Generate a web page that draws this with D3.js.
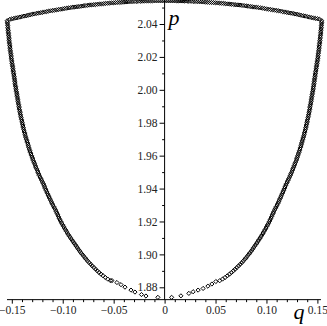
<!DOCTYPE html>
<html>
<head>
<meta charset="utf-8">
<script src="https://cdn.jsdelivr.net/npm/d3@7"></script>
<style>
  html, body { margin: 0; background: #fff; }
  svg { display: block; }
</style>
</head>
<body>
<svg id="chart"></svg>
<script>
// p levels read along the two steep sides of the curve
const sideP = [
  2.042, 2.040, 2.038, 2.036, 2.034, 2.032, 2.030, 2.028, 2.026, 2.024,
  2.022, 2.020, 2.018, 2.016, 2.014, 2.012, 2.010, 2.008, 2.006, 2.004,
  2.002, 2.000, 1.998, 1.996, 1.994, 1.992, 1.990, 1.988, 1.986, 1.984,
  1.982, 1.980, 1.978, 1.976, 1.974, 1.972, 1.970, 1.968, 1.966, 1.964,
  1.962, 1.960, 1.958, 1.956, 1.954, 1.952, 1.950, 1.948, 1.946, 1.944,
  1.942, 1.940, 1.938, 1.936, 1.934, 1.932, 1.930, 1.928, 1.926, 1.924,
  1.922, 1.920, 1.918, 1.916, 1.914, 1.912, 1.910, 1.908, 1.906, 1.904,
  1.902, 1.900, 1.899, 1.898, 1.897, 1.896, 1.895, 1.894, 1.893, 1.892,
  1.891, 1.890, 1.889, 1.888, 1.887, 1.886, 1.885, 1.884
];
const leftQ = [
  -0.1545, -0.1542, -0.1539, -0.1536, -0.1532, -0.1529, -0.1526, -0.1522, -0.1518, -0.1515,
  -0.1510, -0.1506, -0.1502, -0.1497, -0.1492, -0.1487, -0.1482, -0.1477, -0.1472, -0.1468,
  -0.1463, -0.1458, -0.1452, -0.1447, -0.1442, -0.1436, -0.1430, -0.1425, -0.1418, -0.1412,
  -0.1405, -0.1398, -0.1391, -0.1383, -0.1375, -0.1366, -0.1357, -0.1347, -0.1338, -0.1328,
  -0.1318, -0.1306, -0.1295, -0.1282, -0.1271, -0.1257, -0.1244, -0.1231, -0.1214, -0.1199,
  -0.1184, -0.1172, -0.1157, -0.1142, -0.1127, -0.1113, -0.1098, -0.1079, -0.1064, -0.1049,
  -0.1035, -0.1019, -0.1001, -0.0983, -0.0964, -0.0945, -0.0923, -0.0901, -0.0878, -0.0856,
  -0.0834, -0.0808, -0.0795, -0.0782, -0.0769, -0.0756, -0.0741, -0.0725, -0.0710, -0.0694,
  -0.0677, -0.0661, -0.0643, -0.0625, -0.0604, -0.0582, -0.0558, -0.0531
];
const rightQ = [
  0.1543, 0.1541, 0.1538, 0.1535, 0.1532, 0.1528, 0.1525, 0.1521, 0.1517, 0.1514,
  0.1509, 0.1505, 0.1501, 0.1496, 0.1491, 0.1486, 0.1481, 0.1476, 0.1471, 0.1467,
  0.1462, 0.1457, 0.1451, 0.1446, 0.1441, 0.1435, 0.1429, 0.1424, 0.1417, 0.1411,
  0.1404, 0.1397, 0.1390, 0.1382, 0.1374, 0.1366, 0.1357, 0.1348, 0.1339, 0.1329,
  0.1319, 0.1308, 0.1297, 0.1285, 0.1273, 0.1260, 0.1247, 0.1234, 0.1219, 0.1204,
  0.1189, 0.1176, 0.1162, 0.1148, 0.1134, 0.1120, 0.1105, 0.1088, 0.1073, 0.1058,
  0.1044, 0.1029, 0.1012, 0.0995, 0.0977, 0.0958, 0.0938, 0.0917, 0.0895, 0.0873,
  0.0851, 0.0826, 0.0813, 0.0800, 0.0787, 0.0773, 0.0758, 0.0742, 0.0726, 0.0709,
  0.0692, 0.0675, 0.0656, 0.0637, 0.0616, 0.0594, 0.0569, 0.0541
];

// second pass along the sides, at the odd p levels
const sideP2 = [
  2.041, 2.039, 2.037, 2.035, 2.033, 2.031, 2.029, 2.027, 2.025, 2.023,
  2.021, 2.019, 2.017, 2.015, 2.013, 2.011, 2.009, 2.007, 2.005, 2.003,
  2.001, 1.999, 1.997, 1.995, 1.993, 1.991, 1.989, 1.987, 1.985, 1.983,
  1.981, 1.979, 1.977, 1.975, 1.973, 1.971, 1.969, 1.967, 1.965, 1.963,
  1.961, 1.959, 1.957, 1.955, 1.953, 1.951, 1.949, 1.947, 1.945, 1.943,
  1.941, 1.939, 1.937, 1.935, 1.933, 1.931, 1.929, 1.927, 1.925, 1.923,
  1.921, 1.919, 1.917, 1.915, 1.913, 1.911, 1.909, 1.907, 1.905, 1.903,
  1.901
];
const leftQ2 = [
  -0.1544, -0.1540, -0.1537, -0.1534, -0.1531, -0.1527, -0.1524, -0.1520, -0.1516, -0.1512,
  -0.1508, -0.1504, -0.1499, -0.1494, -0.1490, -0.1485, -0.1480, -0.1474, -0.1470, -0.1466,
  -0.1460, -0.1455, -0.1450, -0.1444, -0.1439, -0.1433, -0.1428, -0.1421, -0.1415, -0.1408,
  -0.1401, -0.1394, -0.1387, -0.1379, -0.1370, -0.1362, -0.1352, -0.1342, -0.1333, -0.1323,
  -0.1312, -0.1300, -0.1289, -0.1276, -0.1264, -0.1250, -0.1237, -0.1222, -0.1206, -0.1191,
  -0.1178, -0.1164, -0.1150, -0.1135, -0.1120, -0.1105, -0.1088, -0.1071, -0.1056, -0.1042,
  -0.1027, -0.1010, -0.0992, -0.0973, -0.0954, -0.0934, -0.0912, -0.0890, -0.0867, -0.0845,
  -0.0821
];
const rightQ2 = [
  0.1542, 0.1539, 0.1536, 0.1533, 0.1530, 0.1526, 0.1523, 0.1519, 0.1515, 0.1511,
  0.1507, 0.1503, 0.1498, 0.1493, 0.1488, 0.1483, 0.1478, 0.1473, 0.1469, 0.1464,
  0.1459, 0.1454, 0.1448, 0.1443, 0.1438, 0.1432, 0.1426, 0.1420, 0.1414, 0.1407,
  0.1400, 0.1393, 0.1386, 0.1378, 0.1370, 0.1361, 0.1352, 0.1343, 0.1334, 0.1324,
  0.1313, 0.1302, 0.1291, 0.1279, 0.1266, 0.1253, 0.1240, 0.1226, 0.1211, 0.1196,
  0.1182, 0.1169, 0.1155, 0.1141, 0.1127, 0.1112, 0.1096, 0.1080, 0.1065, 0.1051,
  0.1036, 0.1020, 0.1003, 0.0986, 0.0967, 0.0948, 0.0927, 0.0906, 0.0884, 0.0862,
  0.0838
];

// sparse points along the bottom of the curve
const bottomQ = [-0.0517, -0.0468, -0.0428, -0.0389, -0.0330, -0.0291, -0.0227, -0.0183, -0.0066,
                  0.0069, 0.0160, 0.0238, 0.0280, 0.0329, 0.0378, 0.0425, 0.0464, 0.0503];
const bottomP = [1.8841, 1.8829, 1.8816, 1.8801, 1.8783, 1.8771, 1.8756, 1.8747, 1.8739,
                 1.8739, 1.8748, 1.8763, 1.8773, 1.8783, 1.8793, 1.8807, 1.8820, 1.8835];

// upper edge
const topQ = [
  -0.152, -0.150, -0.148, -0.146, -0.144, -0.142, -0.140, -0.138, -0.136, -0.134,
  -0.132, -0.130, -0.128, -0.126, -0.124, -0.122, -0.120, -0.118, -0.116, -0.114,
  -0.112, -0.110, -0.108, -0.106, -0.104, -0.102, -0.100, -0.098, -0.096, -0.094,
  -0.092, -0.090, -0.088, -0.086, -0.084, -0.082, -0.080, -0.078, -0.076, -0.074,
  -0.072, -0.070, -0.068, -0.066, -0.064, -0.062, -0.060, -0.058, -0.056, -0.054,
  -0.052, -0.050, -0.048, -0.046, -0.044, -0.042, -0.040, -0.038, -0.036, -0.034,
  -0.032, -0.030, -0.028, -0.026, -0.024, -0.022, -0.020, -0.018, -0.016, -0.014,
  -0.012, -0.010, -0.008, -0.006, -0.004, -0.002, 0.000,
  0.002, 0.004, 0.006, 0.008, 0.010, 0.012, 0.014, 0.016, 0.018, 0.020,
  0.022, 0.024, 0.026, 0.028, 0.030, 0.032, 0.034, 0.036, 0.038, 0.040,
  0.042, 0.044, 0.046, 0.048, 0.050, 0.052, 0.054, 0.056, 0.058, 0.060,
  0.062, 0.064, 0.066, 0.068, 0.070, 0.072, 0.074, 0.076, 0.078, 0.080,
  0.082, 0.084, 0.086, 0.088, 0.090, 0.092, 0.094, 0.096, 0.098, 0.100,
  0.102, 0.104, 0.106, 0.108, 0.110, 0.112, 0.114, 0.116, 0.118, 0.120,
  0.122, 0.124, 0.126, 0.128, 0.130, 0.132, 0.134, 0.136, 0.138, 0.140,
  0.142, 0.144, 0.146, 0.148, 0.150, 0.152
];
const topP = [
  2.0428, 2.0431, 2.0434, 2.0437, 2.0439, 2.0442, 2.0445, 2.0448, 2.0450, 2.0453,
  2.0456, 2.0459, 2.0461, 2.0464, 2.0466, 2.0468, 2.0470, 2.0473, 2.0475, 2.0478,
  2.0480, 2.0482, 2.0484, 2.0486, 2.0488, 2.0490, 2.0492, 2.0494, 2.0496, 2.0498,
  2.0500, 2.0502, 2.0503, 2.0505, 2.0506, 2.0508, 2.0510, 2.0512, 2.0513, 2.0515,
  2.0516, 2.0517, 2.0518, 2.0520, 2.0521, 2.0522, 2.0523, 2.0525, 2.0526, 2.0527,
  2.0528, 2.0529, 2.0530, 2.0531, 2.0531, 2.0532, 2.0533, 2.0534, 2.0535, 2.0536,
  2.0536, 2.0537, 2.0537, 2.0538, 2.0538, 2.0539, 2.0539, 2.0540, 2.0540, 2.0540,
  2.0540, 2.0541, 2.0541, 2.0541, 2.0541, 2.0541, 2.0541,
  2.0541, 2.0541, 2.0541, 2.0541, 2.0541, 2.0540, 2.0540, 2.0540, 2.0540, 2.0539,
  2.0539, 2.0538, 2.0538, 2.0537, 2.0537, 2.0536, 2.0536, 2.0535, 2.0534, 2.0533,
  2.0532, 2.0531, 2.0531, 2.0530, 2.0529, 2.0528, 2.0527, 2.0526, 2.0525, 2.0523,
  2.0522, 2.0521, 2.0520, 2.0518, 2.0517, 2.0516, 2.0515, 2.0513, 2.0512, 2.0510,
  2.0508, 2.0506, 2.0505, 2.0503, 2.0502, 2.0500, 2.0498, 2.0496, 2.0494, 2.0492,
  2.0490, 2.0488, 2.0486, 2.0484, 2.0482, 2.0480, 2.0478, 2.0475, 2.0473, 2.0470,
  2.0468, 2.0466, 2.0464, 2.0461, 2.0459, 2.0456, 2.0453, 2.0450, 2.0448, 2.0445,
  2.0442, 2.0439, 2.0437, 2.0434, 2.0432, 2.0429
];

const xTicks = [-0.15, -0.10, -0.05, 0, 0.05, 0.10, 0.15];
const yTicks = [1.88, 1.90, 1.92, 1.94, 1.96, 1.98, 2.00, 2.02, 2.04];
const xMinor = [-0.14, -0.13, -0.12, -0.11, -0.09, -0.08, -0.07, -0.06, -0.04, -0.03, -0.02, -0.01,
                 0.01, 0.02, 0.03, 0.04, 0.06, 0.07, 0.08, 0.09, 0.11, 0.12, 0.13, 0.14];
const yMinor = [1.89, 1.91, 1.93, 1.95, 1.97, 1.99, 2.01, 2.03, 2.05];

const width = 327;
const height = 326;
const qExtent = [-0.1547, 0.1535];   // where the q axis line runs
const pExtent = [1.8725, 2.0546];    // where the p axis line runs
const serif = "'Liberation Serif', 'Times New Roman', serif";

const x = d3.scaleLinear().domain([-0.15, 0.15]).range([11.8, 317.4]);
const y = d3.scaleLinear().domain([1.88, 2.04]).range([287.3, 24]);

const svg = d3.select("#chart")
  .attr("width", width)
  .attr("height", height)
  .attr("font-family", serif);

const fmt = d => d === 0 ? "0" : d3.format(".2f")(d);

function styleAxis(g) {
  g.attr("font-family", serif).attr("font-size", 11.5);
  g.select(".domain").remove();
  g.selectAll("text").attr("fill", "#222");
}

// q axis
const xAxisG = svg.append("g")
  .attr("transform", `translate(0,${y(pExtent[0])})`);
xAxisG.append("g")
  .call(d3.axisBottom(x).tickValues(xMinor).tickSize(2.5).tickFormat(""))
  .call(styleAxis);
xAxisG.append("g")
  .call(d3.axisBottom(x).tickValues(xTicks).tickSize(4).tickPadding(2).tickFormat(fmt))
  .call(styleAxis);
xAxisG.append("line")
  .attr("x1", x(qExtent[0])).attr("x2", x(qExtent[1]))
  .attr("stroke", "#000");

// p axis
const yAxisG = svg.append("g")
  .attr("transform", `translate(${x(0)},0)`);
yAxisG.append("g")
  .call(d3.axisLeft(y).tickValues(yMinor).tickSize(2.5).tickFormat(""))
  .call(styleAxis);
yAxisG.append("g")
  .call(d3.axisLeft(y).tickValues(yTicks).tickSize(5).tickPadding(2).tickFormat(fmt))
  .call(styleAxis);
yAxisG.append("line")
  .attr("y1", y(pExtent[0])).attr("y2", y(pExtent[1]))
  .attr("stroke", "#000");

// axis names
svg.append("text")
  .attr("x", x(0) + 4).attr("y", y(2.04) + 1)
  .attr("font-size", 22).attr("font-style", "italic")
  .text("p");
svg.append("text")
  .attr("x", x(0.1265)).attr("y", y(pExtent[0]) + 19)
  .attr("font-size", 22).attr("font-style", "italic")
  .text("q");

// points
const points = [
  ...sideP.map((p, i) => [leftQ[i], p]),
  ...sideP2.map((p, i) => [leftQ2[i], p]),
  ...bottomQ.map((q, i) => [q, bottomP[i]]),
  ...sideP.map((p, i) => [rightQ[i], p]),
  ...sideP2.map((p, i) => [rightQ2[i], p]),
  ...topQ.map((q, i) => [q, topP[i]])
];

const s = 2.1;
const diamond = `M0,${-s}L${s},0L0,${s}L${-s},0Z`;

svg.append("g")
  .attr("fill", "none")
  .attr("stroke", "#000")
  .attr("stroke-width", 1)
  .selectAll("path")
  .data(points)
  .join("path")
  .attr("transform", d => `translate(${x(d[0])},${y(d[1])})`)
  .attr("d", diamond);
</script>
</body>
</html>
